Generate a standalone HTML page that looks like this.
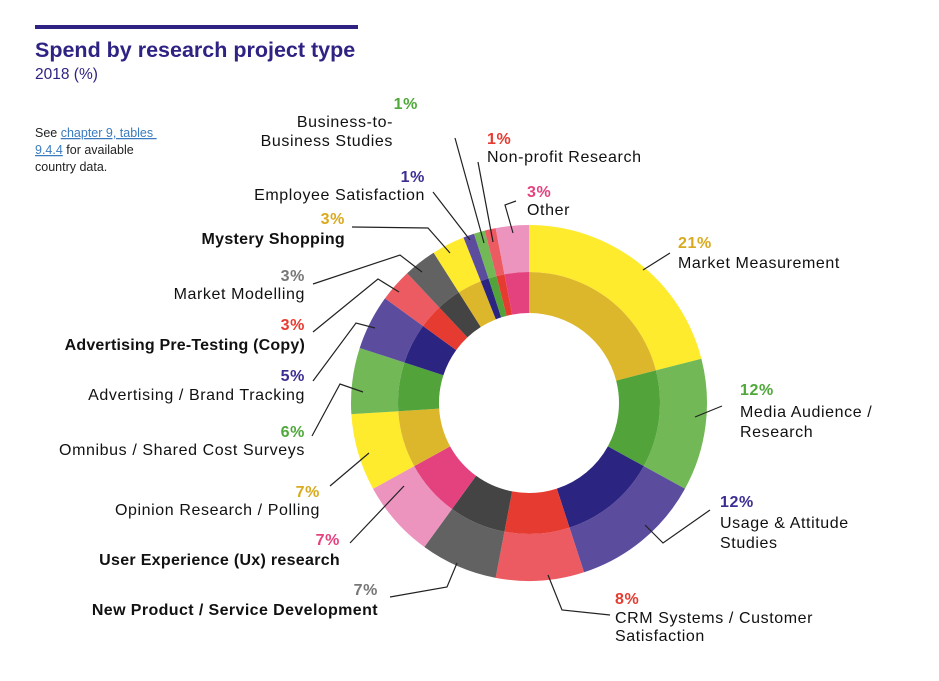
<!DOCTYPE html>
<html><head><meta charset="utf-8"><style>
body{margin:0;background:#fff;width:939px;height:681px;overflow:hidden;font-family:"Liberation Sans",sans-serif}
svg{position:absolute;left:0;top:0}
</style></head><body>
<svg width="939" height="681" xmlns="http://www.w3.org/2000/svg" font-family="Liberation Sans, sans-serif">
<rect x="35" y="25" width="323" height="4" fill="#2E2383"/>
<text x="35" y="57" font-size="21.5" font-weight="bold" fill="#2E2383">Spend by research project type</text>
<text x="35" y="79" font-size="15.5" fill="#2E2383">2018 (%)</text>
<text font-size="12.5" fill="#222"><tspan x="35" y="137">See <tspan fill="#3a7bbf" text-decoration="underline">chapter 9, tables </tspan></tspan><tspan x="35" y="154"><tspan fill="#3a7bbf" text-decoration="underline">9.4.4</tspan> for available</tspan><tspan x="35" y="171">country data.</tspan></text>
<g id="donut"></g>
<g stroke="#222" stroke-width="1.2" fill="none">
<polyline points="643,270 670,253"/>
<polyline points="695,417 722,406"/>
<polyline points="645,525 663,543 710,510"/>
<polyline points="548,575 562,610 610,615"/>
<polyline points="457,563 447,587 390,597"/>
<polyline points="404,486 350,543"/>
<polyline points="369,453 330,486"/>
<polyline points="363,392 340,384 312,436"/>
<polyline points="375,328 356,323 313,381"/>
<polyline points="399,292 378,279 313,332"/>
<polyline points="422,272 400,255 313,284"/>
<polyline points="450,253 428,228 352,227"/>
<polyline points="470,240 433,192"/>
<polyline points="484,243 455,138"/>
<polyline points="493,242 478,162"/>
<polyline points="513,233 505,205 516,201"/>
</g>
<g font-size="16" fill="#111" letter-spacing="0.6">
<text x="678" y="248" fill="#D9A91E" font-weight="bold">21%</text>
<text x="678" y="268">Market Measurement</text>
<text x="740" y="395" fill="#4FA83A" font-weight="bold">12%</text>
<text x="740" y="417">Media Audience /</text>
<text x="740" y="437">Research</text>
<text x="720" y="507" fill="#3B2E92" font-weight="bold">12%</text>
<text x="720" y="528">Usage &amp; Attitude</text>
<text x="720" y="548">Studies</text>
<text x="615" y="604" fill="#E63B30" font-weight="bold">8%</text>
<text x="615" y="623">CRM Systems / Customer</text>
<text x="615" y="641">Satisfaction</text>
<g text-anchor="end">
<text x="378" y="595" fill="#777" font-weight="bold">7%</text>
<text x="378" y="615" font-weight="bold" letter-spacing="0.4">New Product / Service Development</text>
<text x="340" y="545" fill="#E4427E" font-weight="bold">7%</text>
<text x="340" y="565" font-weight="bold" letter-spacing="0.3">User Experience (Ux) research</text>
<text x="320" y="497" fill="#D9A91E" font-weight="bold">7%</text>
<text x="320" y="515">Opinion Research / Polling</text>
<text x="305" y="437" fill="#4FA83A" font-weight="bold">6%</text>
<text x="305" y="455">Omnibus / Shared Cost Surveys</text>
<text x="305" y="381" fill="#3B2E92" font-weight="bold">5%</text>
<text x="305" y="400">Advertising / Brand Tracking</text>
<text x="305" y="330" fill="#E63B30" font-weight="bold">3%</text>
<text x="305" y="350" font-weight="bold" letter-spacing="0.2">Advertising Pre-Testing (Copy)</text>
<text x="305" y="281" fill="#777" font-weight="bold">3%</text>
<text x="305" y="299">Market Modelling</text>
<text x="345" y="224" fill="#D9A91E" font-weight="bold">3%</text>
<text x="345" y="244" font-weight="bold" letter-spacing="0.3">Mystery Shopping</text>
<text x="425" y="182" fill="#3B2E92" font-weight="bold">1%</text>
<text x="425" y="200">Employee Satisfaction</text>
<text x="418" y="109" fill="#4FA83A" font-weight="bold">1%</text>
<text x="393" y="127">Business-to-</text>
<text x="393" y="146">Business Studies</text>
</g>
<text x="487" y="144" fill="#E63B30" font-weight="bold">1%</text>
<text x="487" y="162">Non-profit Research</text>
<text x="527" y="197" fill="#E4427E" font-weight="bold">3%</text>
<text x="527" y="215">Other</text>
</g>
</svg>
<script>
var cx=529,cy=403,R=178,M=131,H=90;
var d=[[21,"#FFEB2E","#DDB72B"],[12,"#72B857","#52A43A"],[12,"#5B4C9E","#2C2481"],[8,"#EC5A62","#E63B30"],[7,"#626262","#444444"],[7,"#EC93BE","#E4427E"],[7,"#FFEB2E","#DDB72B"],[6,"#72B857","#52A43A"],[5,"#5B4C9E","#2C2481"],[3,"#EC5A62","#E63B30"],[3,"#626262","#444444"],[3,"#FFEB2E","#DDB72B"],[1,"#5B4C9E","#2C2481"],[1,"#72B857","#52A43A"],[1,"#EC5A62","#E63B30"],[3,"#EC93BE","#E4427E"]];
function p(r,a){return (cx+r*Math.sin(a)).toFixed(2)+","+(cy-r*Math.cos(a)).toFixed(2)}
function arc(r1,r2,a0,a1){var l=(a1-a0)>Math.PI?1:0;return "M"+p(r2,a0)+"A"+r2+","+r2+" 0 "+l+" 1 "+p(r2,a1)+"L"+p(r1,a1)+"A"+r1+","+r1+" 0 "+l+" 0 "+p(r1,a0)+"Z";}
var g=document.getElementById("donut"),a=0,s="";
d.forEach(function(x){var b=a+x[0]/100*2*Math.PI;s+='<path d="'+arc(M,R,a,b)+'" fill="'+x[1]+'"/><path d="'+arc(H,M,a,b)+'" fill="'+x[2]+'"/>';a=b;});
g.innerHTML=s;
</script>
</body></html>
